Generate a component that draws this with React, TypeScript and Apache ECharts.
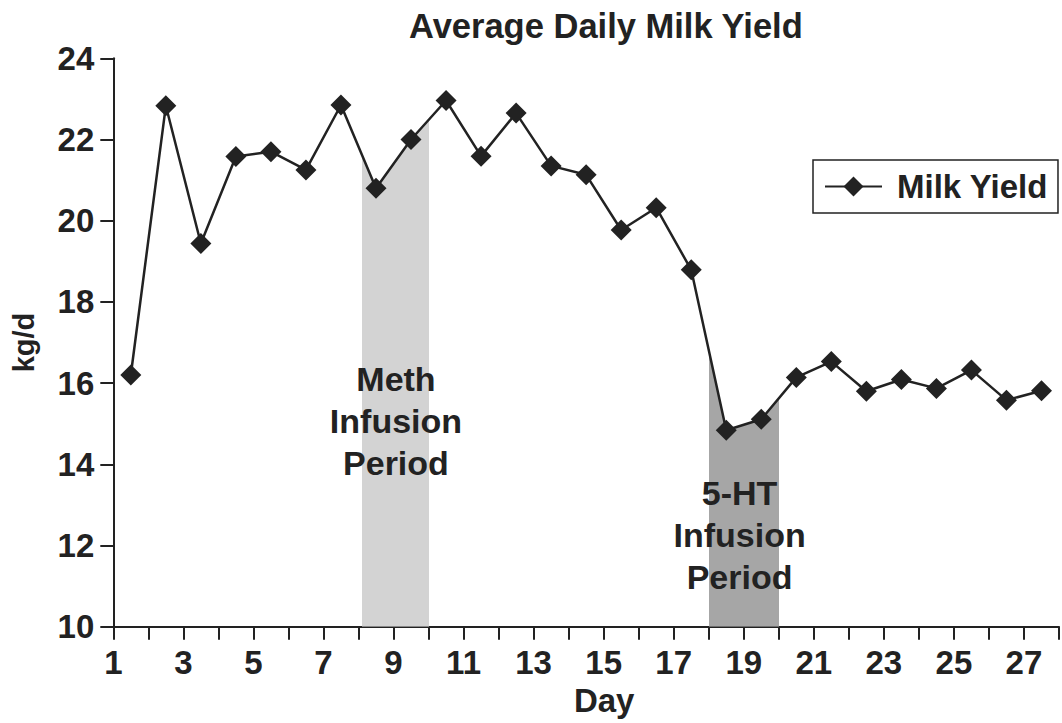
import React, { useEffect, useRef } from 'react';
import * as echarts from 'echarts';

const days = [1.5, 2.5, 3.5, 4.5, 5.5, 6.5, 7.5, 8.5, 9.5, 10.5, 11.5, 12.5, 13.5, 14.5, 15.5, 16.5, 17.5, 18.5, 19.5, 20.5, 21.5, 22.5, 23.5, 24.5, 25.5, 26.5, 27.5];
const milkYield = [16.2, 22.83, 19.44, 21.58, 21.7, 21.25, 22.85, 20.8, 22.0, 22.96, 21.59, 22.65, 21.35, 21.13, 19.77, 20.32, 18.79, 14.84, 15.11, 16.14, 16.53, 15.8, 16.09, 15.87, 16.32, 15.58, 15.81];
const xLabelDays = [1, 3, 5, 7, 9, 11, 13, 15, 17, 19, 21, 23, 25, 27];
const infusionPeriods = [
  { start: 8.1, end: 10, color: '#d3d3d3' },
  { start: 18, end: 20, color: '#a6a6a6' },
];
const annotations = [
  { text: 'Meth\nInfusion\nPeriod', day: 9.07, value: 15.07 },
  { text: '5-HT\nInfusion\nPeriod', day: 18.88, value: 12.26 },
];

const FONT = '"Liberation Sans", Arial, Helvetica, sans-serif';
const INK = '#222222';

export default function App() {
  const ref = useRef<HTMLDivElement>(null);
  useEffect(() => {
    if (!ref.current) return;
    const chart = echarts.init(ref.current, undefined, { renderer: 'svg' });
    const points = days.map((d, i) => [d, milkYield[i]]);
    chart.setOption({
      animation: false,
      backgroundColor: '#ffffff',
      textStyle: { fontFamily: FONT },
      title: {
        text: 'Average Daily Milk Yield',
        left: 409,
        top: 8,
        padding: 0,
        textStyle: { fontFamily: FONT, fontWeight: 'bold', fontSize: 34.5, color: INK },
      },
      legend: {
        data: ['Milk Yield'],
        left: 813,
        top: 160,
        padding: [10, 10, 10, 11],
        borderColor: INK,
        borderWidth: 1.5,
        borderRadius: 0,
        itemWidth: 57,
        itemHeight: 25,
        selectedMode: false,
        textStyle: { fontFamily: FONT, fontWeight: 'bold', fontSize: 33, color: INK, padding: [0, 0, 0, 10] },
      },
      visualMap: {
        show: false,
        type: 'piecewise',
        dimension: 0,
        seriesIndex: 0,
        pieces: infusionPeriods.map((p) => ({ gte: p.start, lte: p.end, color: p.color })),
        outOfRange: { color: 'rgba(255,255,255,0)' },
      },
      grid: { left: 113.3, top: 58.3, right: -4, bottom: 96.3, containLabel: false },
      xAxis: {
        type: 'value',
        min: 1,
        max: 28,
        interval: 1,
        name: 'Day',
        nameLocation: 'middle',
        nameGap: 50,
        nameTextStyle: { fontFamily: FONT, fontWeight: 'bold', fontSize: 33, color: INK, padding: [0, 0, 0, 36] },
        axisLine: { lineStyle: { color: INK, width: 2 } },
        axisTick: { show: true, inside: false, length: 13, lineStyle: { color: INK, width: 2 } },
        axisLabel: {
          margin: 19,
          fontFamily: FONT,
          fontWeight: 'bold',
          fontSize: 33,
          color: INK,
          formatter: (v: number) => (xLabelDays.indexOf(v) >= 0 ? String(v) : ''),
        },
        splitLine: { show: false },
      },
      yAxis: {
        type: 'value',
        min: 10,
        max: 24,
        interval: 2,
        name: 'kg/d',
        nameLocation: 'middle',
        nameRotate: 90,
        nameGap: 75,
        nameTextStyle: { fontFamily: FONT, fontWeight: 'bold', fontSize: 29, color: INK },
        axisLine: { show: true, lineStyle: { color: INK, width: 2 } },
        axisTick: { show: true, inside: false, length: 13, lineStyle: { color: INK, width: 2 } },
        axisLabel: { margin: 19, fontFamily: FONT, fontWeight: 'bold', fontSize: 33, color: INK },
        splitLine: { show: false },
      },
      series: [
        {
          name: 'shade',
          type: 'line',
          data: points,
          symbol: 'none',
          silent: true,
          lineStyle: { width: 0, opacity: 0 },
          areaStyle: { opacity: 1, origin: 'start' },
          z: 1,
        },
        {
          name: 'Milk Yield',
          type: 'line',
          data: points,
          symbol: 'diamond',
          symbolSize: 21,
          color: INK,
          itemStyle: { color: INK },
          lineStyle: { color: INK, width: 2.5 },
          z: 3,
          markPoint: {
            symbol: 'rect',
            symbolSize: 1,
            silent: true,
            itemStyle: { color: 'rgba(0,0,0,0)' },
            label: {
              show: true,
              position: 'inside',
              fontFamily: FONT,
              fontWeight: 'bold',
              fontSize: 34,
              lineHeight: 42,
              color: INK,
              align: 'center',
            },
            data: annotations.map((a) => ({
              coord: [a.day, a.value],
              value: a.text,
              label: { formatter: a.text },
            })),
          },
        },
      ],
    });
    return () => chart.dispose();
  }, []);
  return <div ref={ref} style={{ position: 'absolute', left: 0, top: 0, width: 1062, height: 723 }} />;
}
